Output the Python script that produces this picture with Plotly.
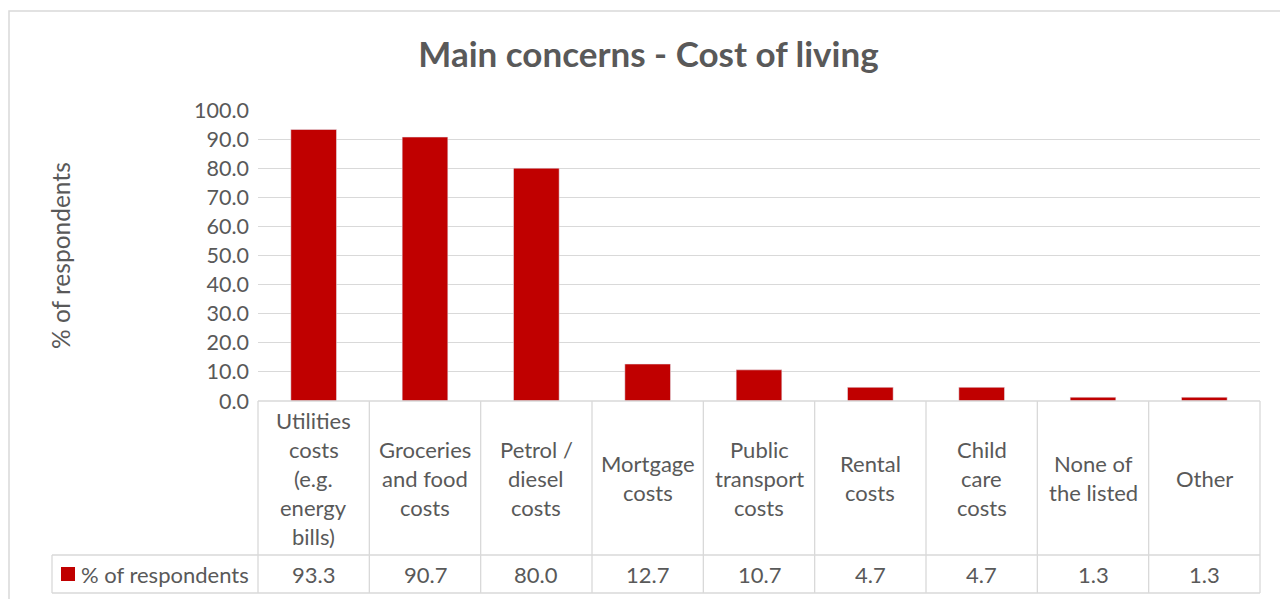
import plotly.graph_objects as go

# data
categories = [
    "Utilities\ncosts\n(e.g.\nenergy\nbills)",
    "Groceries\nand food\ncosts",
    "Petrol /\ndiesel\ncosts",
    "Mortgage\ncosts",
    "Public\ntransport\ncosts",
    "Rental\ncosts",
    "Child\ncare\ncosts",
    "None of\nthe listed",
    "Other",
]
values = [93.3, 90.7, 80.0, 12.7, 10.7, 4.7, 4.7, 1.3, 1.3]
series_name = "% of respondents"
y_ticks = [0, 10, 20, 30, 40, 50, 60, 70, 80, 90, 100]

RED = "#c00000"
GREY = "#595959"
LINE = "#d9d9d9"
FONT = "Lato"

# page body has an 8px margin, so the figure is drawn a bit smaller and everything is laid out in page pixels
OFF = 8
W, H = 1288 - OFF, 599 - OFF
PLOT_L, PLOT_R, PLOT_T, PLOT_B = 258, 1260, 110, 401   # plot area in page pixels
L, R = PLOT_L - OFF, W - (PLOT_R - OFF)
T, B = PLOT_T - OFF, H - (PLOT_B - OFF)
PH = PLOT_B - PLOT_T
PW = PLOT_R - PLOT_L


def py(p):  # page pixel y -> paper y
    return (PLOT_B - p) / PH


def px(p):  # page pixel x -> paper x
    return (p - PLOT_L) / PW


keys = [c.replace("\n", " ") for c in categories]

fig = go.Figure()
fig.add_trace(go.Bar(x=keys, y=values, marker_color=RED, width=0.41, name=series_name))

shapes = []
annotations = []

# data table lines
line = dict(color=LINE, width=1.3)
n = len(categories)
for i in range(n + 1):
    shapes.append(dict(type="line", xref="paper", yref="paper", x0=i / n, x1=i / n,
                       y0=py(401), y1=py(593), line=line))
shapes.append(dict(type="line", xref="paper", yref="paper", x0=0, x1=1, y0=py(401), y1=py(401), line=line))
shapes.append(dict(type="line", xref="paper", yref="paper", x0=px(52), x1=1, y0=py(555), y1=py(555), line=line))
shapes.append(dict(type="line", xref="paper", yref="paper", x0=px(52), x1=1, y0=py(593), y1=py(593), line=line))
shapes.append(dict(type="line", xref="paper", yref="paper", x0=px(52), x1=px(52), y0=py(555), y1=py(593), line=line))
# legend key
shapes.append(dict(type="rect", xref="paper", yref="paper", x0=px(61), x1=px(75), y0=py(567), y1=py(581),
                   fillcolor=RED, line=dict(width=0)))
# chart border (left edge sits at the very edge of the figure)
shapes.append(dict(type="rect", xref="paper", yref="paper", x0=px(9), x1=px(1300), y0=py(11), y1=py(620),
                   line=dict(color=LINE, width=1.5), layer="below"))

# category labels, one annotation per line
for k, c in zip(keys, categories):
    parts = c.split("\n")
    for j, part in enumerate(parts):
        ypix = 478 + (j - (len(parts) - 1) / 2) * 29
        annotations.append(dict(x=k, xref="x", y=py(ypix), yref="paper", text=part, showarrow=False,
                                font=dict(size=22, color=GREY, family=FONT), xanchor="center", yanchor="middle"))

# values row
for k, v in zip(keys, values):
    annotations.append(dict(x=k, xref="x", y=py(574), yref="paper", text=f"{v:.1f}", showarrow=False,
                            font=dict(size=22, color=GREY, family=FONT), xanchor="center", yanchor="middle"))
annotations.append(dict(x=px(79), xref="paper", y=py(574), yref="paper", text=series_name, showarrow=False,
                        font=dict(size=22, color=GREY, family=FONT), xanchor="left", yanchor="middle"))

# y axis title
annotations.append(dict(x=px(60), xref="paper", y=py(256), yref="paper", text=series_name, showarrow=False,
                        textangle=-90, font=dict(size=24.5, color=GREY, family=FONT),
                        xanchor="center", yanchor="middle"))

fig.update_layout(
    width=W, height=H,
    margin=dict(l=L, r=R, t=T, b=B),
    plot_bgcolor="white", paper_bgcolor="white",
    showlegend=False,
    title=dict(text="<b>Main concerns - Cost of living</b>", x=((421 + 876) / 2 - OFF) / W, xanchor="center",
               y=1 - (55 - OFF) / H, yanchor="middle", yref="container",
               font=dict(size=35, color=GREY, family=FONT)),
    shapes=shapes,
    annotations=annotations,
)
fig.update_xaxes(range=[-0.5, n - 0.5], showticklabels=False, showgrid=False, zeroline=False,
                 showline=False, ticks="")
fig.update_yaxes(range=[0, 100], tickvals=y_ticks, tickformat=".1f", showgrid=True, gridcolor=LINE,
                 gridwidth=1.3, zeroline=False, showline=False, ticks="", ticklabelstandoff=8,
                 tickfont=dict(size=21.5, color=GREY, family=FONT))

fig.write_html("out.html")
